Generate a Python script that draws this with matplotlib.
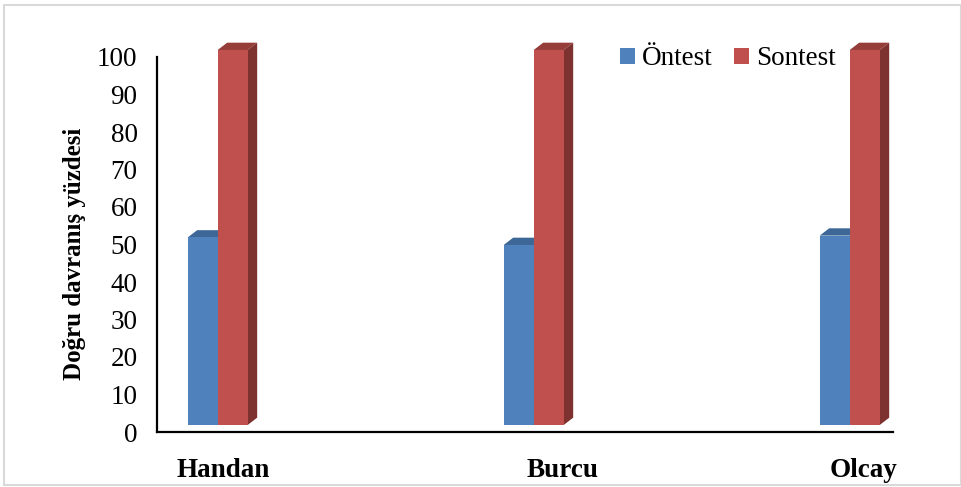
import numpy as np
import matplotlib.pyplot as plt
from matplotlib.patches import Polygon, Rectangle

# Doğru davranış yüzdeleri (öntest / sontest)
students = ["Handan", "Burcu", "Olcay"]
pretest = [50, 48, 50.5]
posttest = [100, 100, 100]
series_names = ["Öntest", "Sontest"]

plt.rcParams['font.family'] = ['Liberation Serif', 'DejaVu Serif']

front_colors = ["#4F81BD", "#C0504D"]
top_colors = ["#3D6797", "#963D3A"]
side_colors = ["#2F5080", "#7D3230"]

fig = plt.figure(figsize=(9.62, 4.87), dpi=100)
ax = fig.add_axes([157 / 962, 1 - 432 / 487, (893 - 157) / 962, (432 - 57) / 487])

x = np.arange(len(students))
w = 0.095
base = 1.87      # front face sits a bit above the floor
dx, dy = 0.030, 1.95  # depth of the 3D boxes in data units

handles = []
for i, vals in enumerate([pretest, posttest]):
    left = x - w + i * w
    bars = ax.bar(left, vals, width=w, bottom=base, align='edge',
                  color=front_colors[i], linewidth=0, zorder=2 + i * 2,
                  label=series_names[i], clip_on=False)
    handles.append(bars)
    for xl, v in zip(left, vals):
        top = base + v
        ax.add_patch(Polygon([(xl, top), (xl + w, top), (xl + w + dx, top + dy), (xl + dx, top + dy)],
                             closed=True, facecolor=top_colors[i], linewidth=0,
                             zorder=1.5 + i * 2, clip_on=False))
        ax.add_patch(Polygon([(xl + w, base), (xl + w + dx, base + dy), (xl + w + dx, top + dy), (xl + w, top)],
                             closed=True, facecolor=side_colors[i], linewidth=0,
                             zorder=1.5 + i * 2, clip_on=False))

fs = 19.5
ax.set_xlim(-0.192, 2.137)
ax.set_ylim(0, 100)
ax.set_yticks(np.arange(0, 101, 10))
ax.tick_params(axis='y', length=0, pad=14, labelsize=fs)
ax.set_xticks([])
for s in ['top', 'right']:
    ax.spines[s].set_visible(False)
for s in ['left', 'bottom']:
    ax.spines[s].set_linewidth(1.6)
    ax.spines[s].set_color('black')

# category names sit well below the axis
label_x = [0.017, 0.09, 0.045]
for xi, name, off in zip(x, students, label_x):
    ax.text(xi + off, -10.2, name, ha='center', va='center',
            fontsize=fs, fontweight='bold', clip_on=False)

ax.set_ylabel("Doğru davranış yüzdesi", fontsize=18, fontweight='bold')
ax.yaxis.set_label_coords(-0.096, 0.476)

ax.legend(handles=handles, loc='upper left', bbox_to_anchor=(0.6145, 1.057),
          ncol=2, frameon=False, fontsize=fs, handlelength=0.55, handleheight=0.55,
          handletextpad=0.25, columnspacing=0.8, borderaxespad=0)

# thin gray frame around the chart area
fig.patches.append(Rectangle((4 / 962, 2 / 487), 957 / 962, 480 / 487, transform=fig.transFigure,
                             fill=False, edgecolor='#D9D9D9', linewidth=1.5))

fig.savefig("out.png", dpi=100)
